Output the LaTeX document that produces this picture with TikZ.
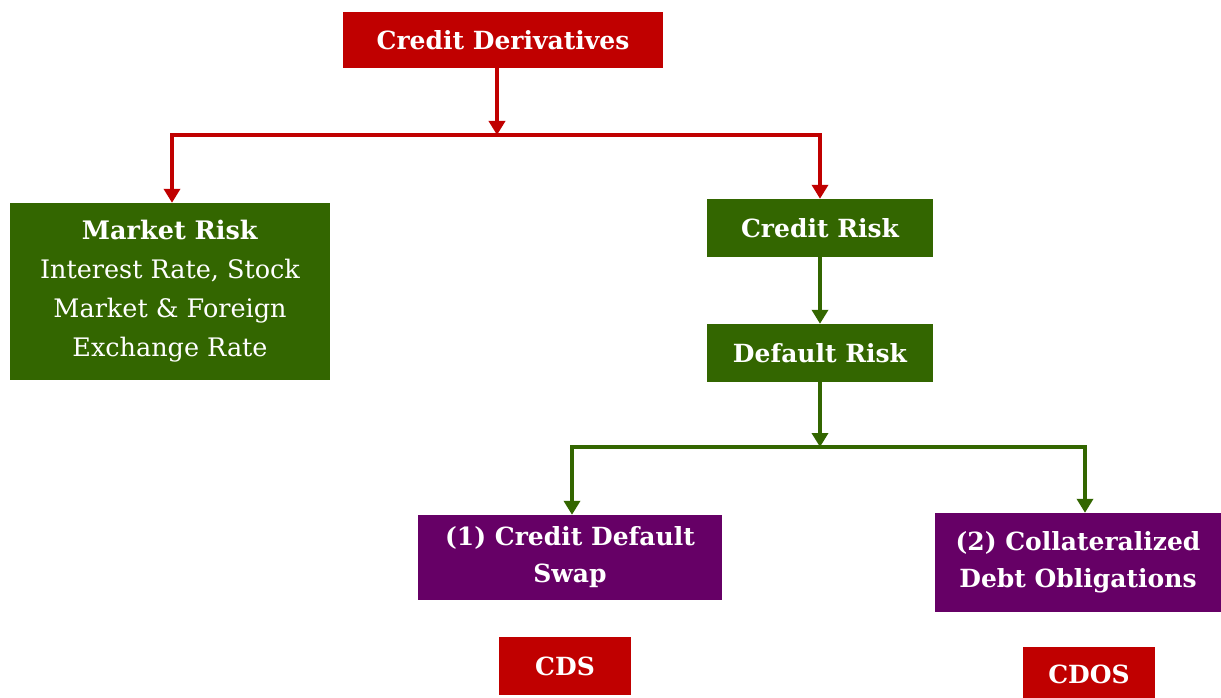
\documentclass[tikz,border=0pt]{standalone}
\usepackage{fontspec}
\setmainfont{DejaVu Serif}
\usetikzlibrary{arrows.meta,positioning}
\definecolor{CDred}{RGB}{192,0,0}
\definecolor{CDgreen}{RGB}{51,102,0}
\definecolor{CDpurple}{RGB}{102,0,102}
\tikzset{
  box/.style={draw=none,text=white,align=center,inner sep=0pt,
              font=\fontsize{25}{37}\selectfont\bfseries},
  redbox/.style={box,fill=CDred},
  greenbox/.style={box,fill=CDgreen},
  purplebox/.style={box,fill=CDpurple},
  flr/.style={-{Triangle[length=14pt,width=16pt]},line width=4pt,draw=CDred},
  flg/.style={-{Triangle[length=14pt,width=16pt]},line width=4pt,draw=CDgreen}
}
\begin{document}
\begin{tikzpicture}[x=1pt,y=-1pt]
  \useasboundingbox[fill=white] (0,0) rectangle (1221,698);
  \node[redbox,minimum width=320pt,minimum height=56pt] (deriv) at (503,40) {Credit Derivatives};
  \node[greenbox,minimum width=320pt,minimum height=177pt,
        font=\fontsize{25.5}{39}\selectfont] (market) at (170,291.5)
        {\textbf{Market Risk}\\Interest Rate, Stock\\Market \& Foreign\\Exchange Rate};
  \node[greenbox,minimum width=226pt,minimum height=58pt] (credit) at (820,228) {Credit Risk};
  \node[greenbox,minimum width=226pt,minimum height=58pt] (default) at (820,353) {Default Risk};
  \node[purplebox,minimum width=304pt,minimum height=85pt] (cds) at (570,557.5) {(1) Credit Default\\Swap};
  \node[purplebox,minimum width=286pt,minimum height=99pt] (cdo) at (1078,562.5) {(2) Collateralized\\Debt Obligations};
  \node[redbox,minimum width=132pt,minimum height=58pt] (cdsname) at (565,666) {CDS};
  \node[redbox,minimum width=132pt,minimum height=55pt] (cdoname) at (1089,674.5) {CDOS};
  % red tree
  \coordinate (split) at (497,135);
  \draw[flr] ([xshift=-6pt]deriv.south) -- (split);
  \draw[flr] (split) -| ([xshift=2pt]market.north);
  \draw[flr] (split) -| (credit.north);
  % green tree
  \coordinate (split2) at (820,447);
  \draw[flg] (credit) -- (default);
  \draw[flg] (default) -- (split2);
  \draw[flg] (split2) -| ([xshift=2pt]cds.north);
  \draw[flg] (split2) -| ([xshift=7pt]cdo.north);
\end{tikzpicture}
\end{document}
